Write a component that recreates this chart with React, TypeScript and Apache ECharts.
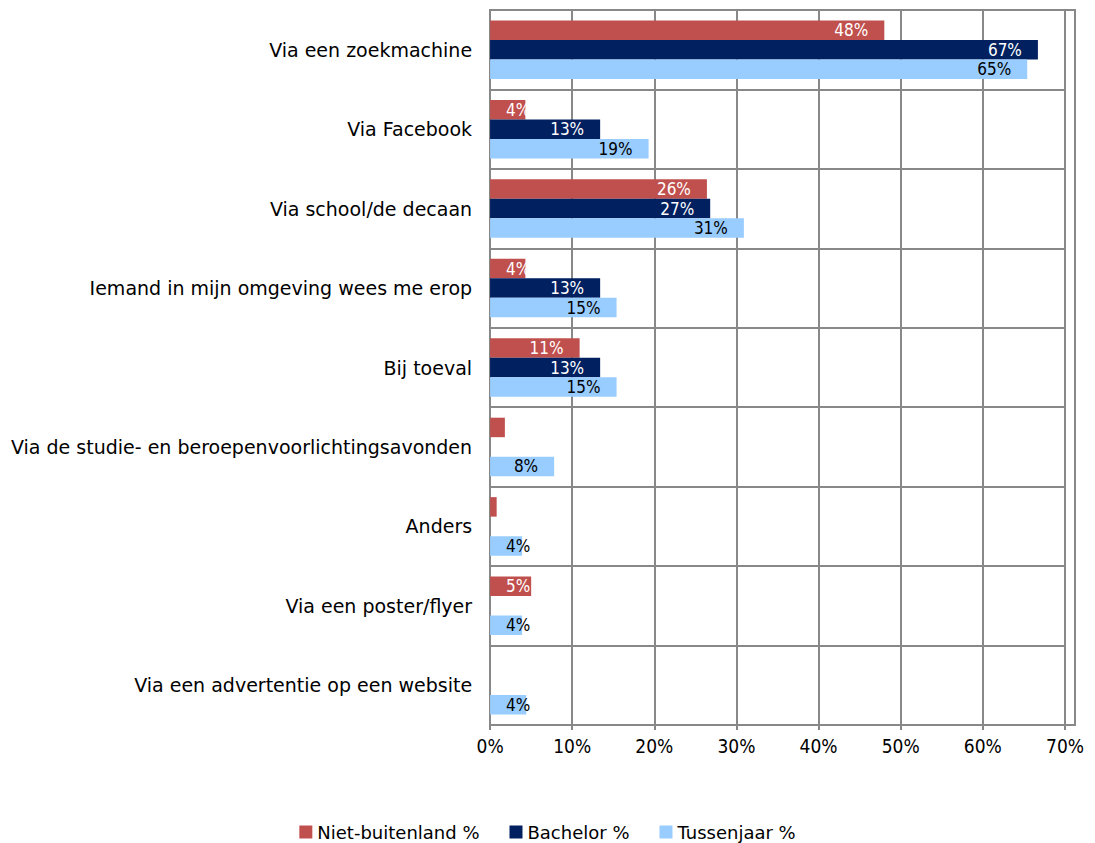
import React, { useEffect, useRef } from "react";
import * as echarts from "echarts";

const categories = [
  "Via een zoekmachine",
  "Via Facebook",
  "Via school/de decaan",
  "Iemand in mijn omgeving wees me erop",
  "Bij toeval",
  "Via de studie- en beroepenvoorlichtingsavonden",
  "Anders",
  "Via een poster/flyer",
  "Via een advertentie op een website",
];
const nietBuitenland = [48.0, 4.3, 26.4, 4.3, 10.9, 1.8, 0.8, 5.0, null];
const bachelor = [66.7, 13.4, 26.8, 13.4, 13.4, null, null, null, null];
const tussenjaar = [65.4, 19.3, 30.9, 15.4, 15.4, 7.8, 3.9, 3.9, 4.4];
const xTicks = [0, 10, 20, 30, 40, 50, 60, 70];

const FONT = "DejaVu Sans";
const NUMFONT = "'Liberation Sans Narrow', 'DejaVu Sans Condensed', 'Liberation Sans', sans-serif";

export default function App() {
  const ref = useRef<HTMLDivElement>(null);
  useEffect(() => {
    if (!ref.current) return;
    const chart = echarts.init(ref.current, undefined, { renderer: "svg" });
    const mkSeries = (name: string, data: (number | null)[], color: string, labelColor: string) => ({
      name,
      type: "bar",
      data: data.map((v) =>
        v != null && v >= 3 && v < 6
          ? { value: v, label: { position: "insideLeft", distance: 16 } }
          : { value: v }
      ),
      barWidth: 19.5,
      barGap: "0%",
      itemStyle: { color },
      label: {
        show: true,
        position: "insideRight",
        distance: 16,
        color: labelColor,
        fontFamily: NUMFONT,
        fontSize: 17,
        formatter: (p: any) => (p.value == null || p.value < 3 ? "" : Math.round(p.value) + "%"),
      },
    });
    chart.setOption({
      animation: false,
      textStyle: { fontFamily: FONT },
      grid: { left: 482, right: 12, top: 2, bottom: 118, containLabel: false },
      legend: {
        left: "center",
        top: 810,
        itemWidth: 13,
        itemHeight: 13,
        itemGap: 30,
        icon: "rect",
        textStyle: { fontFamily: FONT, fontSize: 18, color: "#000" },
      },
      xAxis: {
        type: "value",
        min: 0,
        max: 70,
        interval: 10,
        axisLine: { show: true, lineStyle: { color: "#888", width: 2 } },
        axisTick: { show: true, inside: false, length: 5, lineStyle: { color: "#888", width: 2 } },
        splitLine: { show: true, lineStyle: { color: "#888", width: 2 } },
        axisLabel: {
          formatter: (v: number) => (xTicks.includes(v) ? v + "%" : ""),
          color: "#000",
          fontFamily: NUMFONT,
          fontSize: 19,
          margin: 11,
        },
      },
      yAxis: {
        type: "category",
        data: categories,
        inverse: true,
        axisLine: { show: true, lineStyle: { color: "#888", width: 2 } },
        axisTick: { show: false },
        splitLine: { show: true, lineStyle: { color: "#888", width: 2 } },
        axisLabel: { color: "#000", fontFamily: FONT, fontSize: 19, margin: 18 },
      },
      series: [
        mkSeries("Niet-buitenland %", nietBuitenland, "#C0504D", "#fff"),
        mkSeries("Bachelor %", bachelor, "#002060", "#fff"),
        mkSeries("Tussenjaar %", tussenjaar, "#99CCFF", "#000"),
      ],
      graphic: [
        {
          type: "rect",
          shape: { x: 482, y: 2, width: 585, height: 715 },
          style: { fill: "none", stroke: "#888", lineWidth: 2 },
          silent: true,
        },
      ],
    });
    return () => chart.dispose();
  }, []);
  return <div ref={ref} style={{ width: 1079, height: 835 }} />;
}
